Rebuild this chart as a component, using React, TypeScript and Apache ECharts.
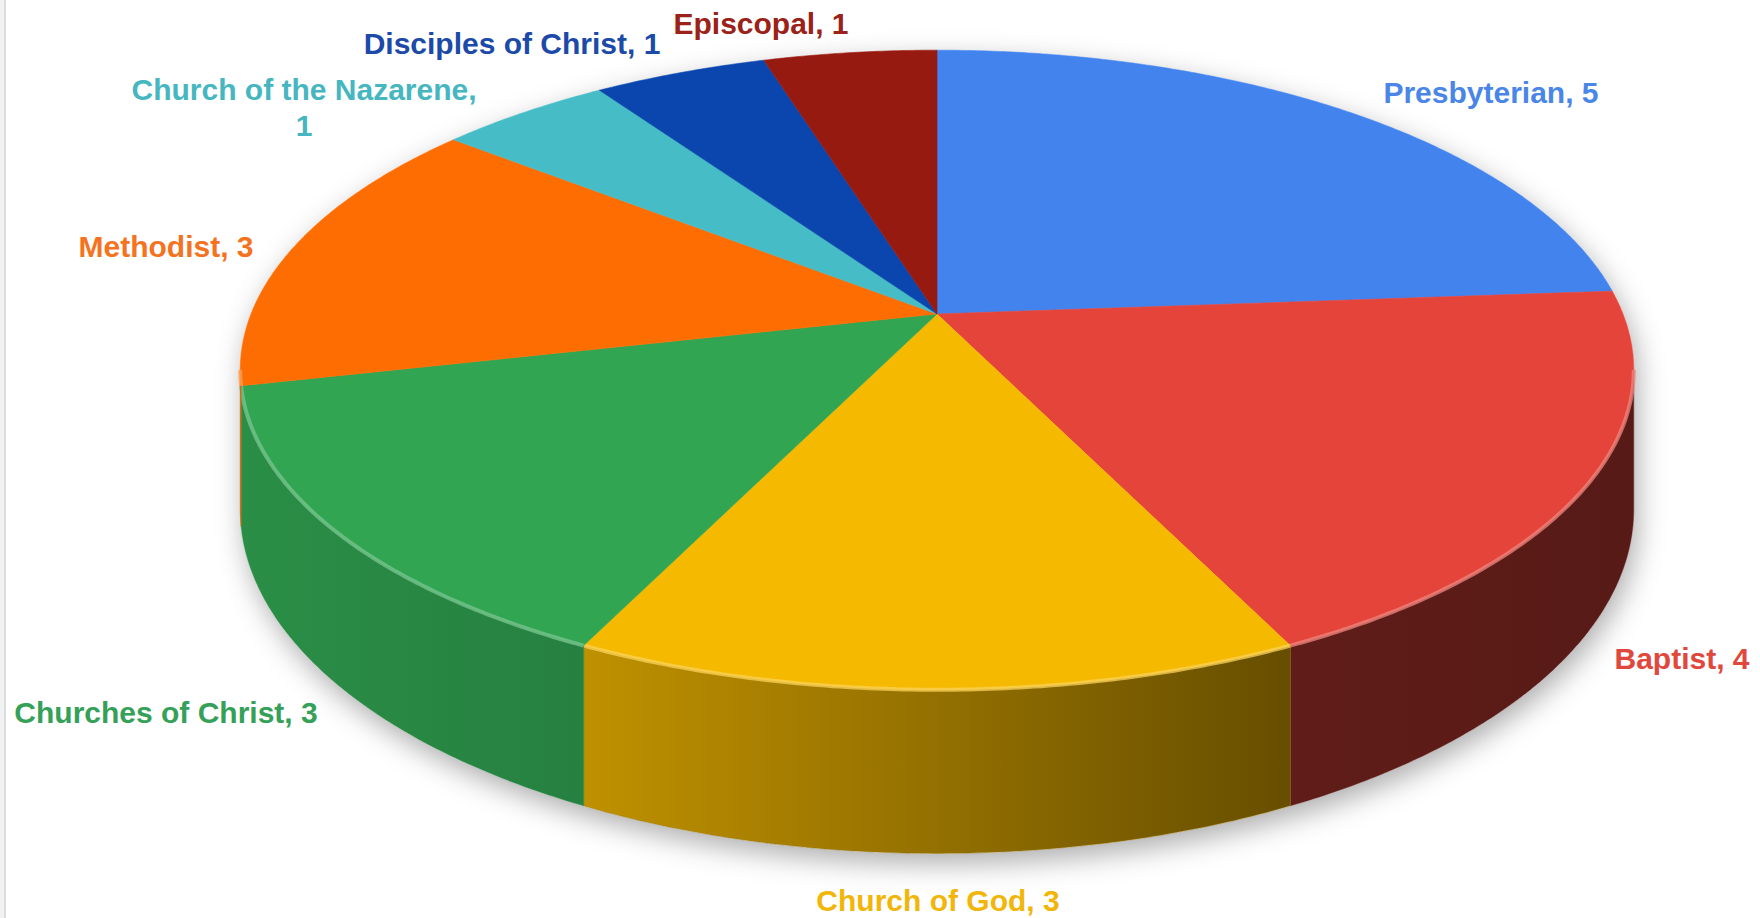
import React, { useEffect, useRef } from "react";
import * as echarts from "echarts";

// ---- data ----
const categories = [
  "Presbyterian",
  "Baptist",
  "Church of God",
  "Churches of Christ",
  "Methodist",
  "Church of the Nazarene",
  "Disciples of Christ",
  "Episcopal",
];
const values = [5, 4, 3, 3, 3, 1, 1, 1];
const labelBreaks = [false, false, false, false, false, true, false, false];

// ---- styles / layout ----
const sliceColors = ["#4383ee", "#e5443a", "#f5ba00", "#31a552", "#fe6d01", "#46bcc6", "#0a46ad", "#971a10"];
const labelColors = ["#4a86e8", "#e0473d", "#f2b50a", "#34a058", "#f5731f", "#46b6c0", "#1b4aa8", "#9a2219"];
const labelPos: [number, number][] = [
  [1491, 92],
  [1682, 658],
  [938, 900],
  [166, 712],
  [166, 246],
  [304, 107],
  [512, 43],
  [761, 23],
];

const CX = 937;
const CY = 314;
const RX = 686;
const RY = 310;
const E = 0.175;
const DEPTH = 135;
const SIL1 = (Math.acos(-E) * 180) / Math.PI; // ~100deg
const SIL2 = 360 - SIL1;

const total = values.reduce((a, b) => a + b, 0);
const starts: number[] = [];
values.reduce((acc, v, i) => {
  starts[i] = acc;
  return acc + v;
}, 0);

function proj(theta: number, bottom = false): [number, number] {
  const t = (theta * Math.PI) / 180;
  const u = Math.sin(t);
  const v = -Math.cos(t);
  const s = 1 / (1 - E * v);
  return [CX + RX * u * s, CY + RY * v * s + (bottom ? DEPTH * s : 0)];
}

function arc(a: number, b: number, bottom = false): [number, number][] {
  const n = Math.max(2, Math.ceil(Math.abs(b - a) / 0.5));
  const pts: [number, number][] = [];
  for (let k = 0; k <= n; k++) pts.push(proj(a + ((b - a) * k) / n, bottom));
  return pts;
}

function hexToRgb(h: string) {
  const n = parseInt(h.slice(1), 16);
  return [(n >> 16) & 255, (n >> 8) & 255, n & 255];
}
function shade(h: string, f: number) {
  const [r, g, b] = hexToRgb(h);
  return `rgb(${Math.round(r * f)},${Math.round(g * f)},${Math.round(b * f)})`;
}
function mixWhite(h: string, f: number) {
  const [r, g, b] = hexToRgb(h);
  return `rgb(${Math.round(r + (255 - r) * f)},${Math.round(g + (255 - g) * f)},${Math.round(b + (255 - b) * f)})`;
}
// lighting across the side wall (left lighter, right darker)
const lightX = [241, 584, 1291, 1633];
const lightF = [0.86, 0.78, 0.42, 0.38];
function lightAt(x: number) {
  if (x <= lightX[0]) return lightF[0];
  for (let i = 1; i < lightX.length; i++) {
    if (x <= lightX[i]) {
      const t = (x - lightX[i - 1]) / (lightX[i] - lightX[i - 1]);
      return lightF[i - 1] + (lightF[i] - lightF[i - 1]) * t;
    }
  }
  return lightF[lightF.length - 1];
}

export default function App() {
  const ref = useRef<HTMLDivElement>(null);
  useEffect(() => {
    document.body.style.margin = "0";
    const chart = echarts.init(ref.current!, undefined, { renderer: "svg" });

    const renderSlice = (params: any, api: any) => {
      const i = params.dataIndex;
      const val = api.value(0);
      const a = (starts[i] / total) * 360;
      const b = a + (val / total) * 360;
      const color = sliceColors[i];
      const children: any[] = [];

      const sa = Math.max(a, SIL1);
      const sb = Math.min(b, SIL2);
      if (sb > sa) {
        const top = arc(sa, sb);
        const bot = arc(sb, sa, true);
        const pts = top.concat(bot);
        const xs = pts.map((p) => p[0]);
        const x0 = Math.min(...xs);
        const x1 = Math.max(...xs);
        const stops = [0, 0.25, 0.5, 0.75, 1].map((o) => ({
          offset: o,
          color: shade(color, lightAt(x0 + (x1 - x0) * o)),
        }));
        children.push({
          type: "polygon",
          shape: { points: pts },
          style: {
            fill: { type: "linear", x: x0, y: 0, x2: x1, y2: 0, global: true, colorStops: stops },
            stroke: shade(color, lightAt((x0 + x1) / 2)),
            lineWidth: 0.5,
          },
        });
      }

      const topPts = [[CX, CY] as [number, number]].concat(arc(a, b));
      children.push({
        type: "polygon",
        shape: { points: topPts },
        style: { fill: color, stroke: color, lineWidth: 0.6 },
      });

      if (sb > sa) {
        children.push({
          type: "polyline",
          shape: { points: arc(sa, sb) },
          style: { stroke: mixWhite(color, 0.35), lineWidth: 4, fill: null, opacity: 0.75 },
        });
      }

      const txt = labelBreaks[i] ? `${categories[i]},\n${val}` : `${categories[i]}, ${val}`;
      children.push({
        type: "text",
        x: labelPos[i][0],
        y: labelPos[i][1],
        style: {
          text: txt,
          fill: labelColors[i],
          fontSize: 30,
          fontWeight: "bold",
          fontFamily: "Liberation Sans, Arial, sans-serif",
          align: "center",
          verticalAlign: "middle",
          lineHeight: 36,
        },
      });
      return { type: "group", children };
    };

    const renderShadow = () => {
      const pts = arc(SIL2, SIL1 + 360).map((p) => p) // far arc
        .concat(arc(SIL1, SIL2, true));
      return {
        type: "polygon",
        shape: { points: pts },
        style: {
          fill: "#ffffff",
          shadowBlur: 28,
          shadowColor: "rgba(0,0,0,0.32)",
          shadowOffsetX: 4,
          shadowOffsetY: 10,
        },
      };
    };

    chart.setOption({
      animation: false,
      backgroundColor: "#ffffff",
      graphic: [
        { type: "rect", shape: { x: 0, y: 0, width: 4, height: 918 }, style: { fill: "#f2f2f2" }, silent: true },
        { type: "line", shape: { x1: 5, y1: 0, x2: 5, y2: 918 }, style: { stroke: "#dddddd", lineWidth: 2 }, silent: true },
      ],
      series: [
        {
          type: "custom",
          coordinateSystem: "none",
          silent: true,
          z: 1,
          data: [[total]],
          renderItem: renderShadow,
        },
        {
          type: "custom",
          coordinateSystem: "none",
          silent: true,
          z: 2,
          data: values.map((v, i) => ({ name: categories[i], value: [v] })),
          renderItem: renderSlice,
        },
      ],
    });
    return () => chart.dispose();
  }, []);
  return <div ref={ref} style={{ width: 1760, height: 918 }} />;
}
